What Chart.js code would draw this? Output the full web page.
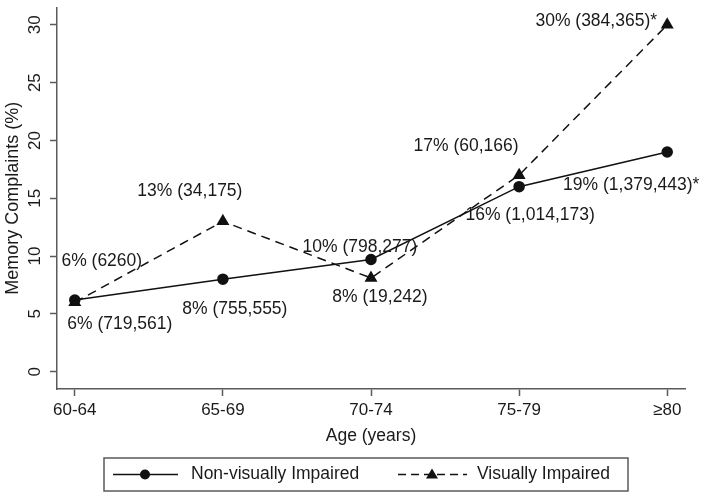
<!DOCTYPE html>
<html>
<head>
<meta charset="utf-8">
<script src="https://cdn.jsdelivr.net/npm/chart.js@4.4.1/dist/chart.umd.min.js"></script>
<style>
  html, body { margin: 0; padding: 0; background: #fff; }
  #wrap { width: 702px; height: 495px; }
</style>
</head>
<body>
<div id="wrap"><canvas id="chart"></canvas></div>
<script>
const ageGroups = ['60-64', '65-69', '70-74', '75-79', '≥80']
const yTicks = [0, 5, 10, 15, 20, 25, 30]

const nonVisual = [6.2, 8.0, 9.7, 16.0, 19.0]
const visual = [6.0, 13.0, 8.1, 17.0, 30.0]

const nonVisualLabels = ['6% (719,561)', '8% (755,555)', '10% (798,277)', '16% (1,014,173)', '19% (1,379,443)*']
const visualLabels = ['6% (6260)', '13% (34,175)', '8% (19,242)', '17% (60,166)', '30% (384,365)*']

const FONT = 'Arial, "Liberation Sans", Helvetica, sans-serif'
const AXIS = '#5a5a5a'

// label offsets from the point, pixels
const nonOffsets = [[45, 24], [12, 30], [-11, -12], [11, 28], [-36, 33]]
const visOffsets = [[27, -41], [-33, -30], [9, 19], [-53, -29], [-71, -4]]

const annotatePlugin = {
  id: 'annotate',
  afterDatasetsDraw (chart) {
    const ctx = chart.ctx
    ctx.save()
    ctx.font = '17.5px ' + FONT
    ctx.fillStyle = '#1a1a1a'
    ctx.textAlign = 'center'
    ctx.textBaseline = 'middle'
    const m0 = chart.getDatasetMeta(0).data
    const m1 = chart.getDatasetMeta(1).data
    nonVisualLabels.forEach((t, i) => {
      ctx.fillText(t, m0[i].x + nonOffsets[i][0], m0[i].y + nonOffsets[i][1])
    })
    visualLabels.forEach((t, i) => {
      ctx.fillText(t, m1[i].x + visOffsets[i][0], m1[i].y + visOffsets[i][1])
    })
    ctx.restore()
  },
  afterDraw (chart) {
    // legend box
    const ctx = chart.ctx
    const area = chart.chartArea
    const cx = (area.left + area.right) / 2 - 5
    const left = cx - 262
    const right = cx + 262
    const top = 458
    const bottom = 491
    const my = (top + bottom) / 2
    ctx.save()
    ctx.strokeStyle = AXIS
    ctx.lineWidth = 1.5
    ctx.strokeRect(left, top, right - left, bottom - top)

    ctx.strokeStyle = '#111'
    ctx.fillStyle = '#111'
    ctx.lineWidth = 1.5
    ctx.beginPath()
    ctx.moveTo(left + 9, my)
    ctx.lineTo(left + 74, my)
    ctx.stroke()
    ctx.beginPath()
    ctx.arc(left + 41, my, 5, 0, Math.PI * 2)
    ctx.fill()

    ctx.setLineDash([8, 5])
    ctx.beginPath()
    ctx.moveTo(left + 294, my)
    ctx.lineTo(left + 363, my)
    ctx.stroke()
    ctx.setLineDash([])
    const tx = left + 328
    ctx.beginPath()
    ctx.moveTo(tx, my - 6)
    ctx.lineTo(tx + 6, my + 4)
    ctx.lineTo(tx - 6, my + 4)
    ctx.closePath()
    ctx.fill()

    ctx.font = '17.5px ' + FONT
    ctx.fillStyle = '#1a1a1a'
    ctx.textAlign = 'left'
    ctx.textBaseline = 'middle'
    ctx.fillText('Non-visually Impaired', left + 87, my)
    ctx.fillText('Visually Impaired', left + 373, my)
    ctx.restore()
  }
}

new Chart(document.getElementById('chart'), {
  type: 'line',
  data: {
    datasets: [
      {
        label: 'Non-visually Impaired',
        data: nonVisual.map((v, i) => ({ x: i, y: v })),
        borderColor: '#111',
        backgroundColor: '#111',
        borderWidth: 1.5,
        pointStyle: 'circle',
        pointRadius: 5,
        tension: 0
      },
      {
        label: 'Visually Impaired',
        data: visual.map((v, i) => ({ x: i, y: v })),
        borderColor: '#111',
        backgroundColor: '#111',
        borderWidth: 1.5,
        borderDash: [9, 6],
        pointStyle: 'triangle',
        pointRadius: 6,
        tension: 0
      }
    ]
  },
  options: {
    responsive: true,
    maintainAspectRatio: false,
    animation: false,
    clip: false,
    layout: { padding: { left: 2, right: 17, top: 3, bottom: 48 } },
    plugins: {
      legend: { display: false },
      tooltip: { enabled: false }
    },
    scales: {
      x: {
        type: 'linear',
        min: -0.12,
        max: 4.12,
        afterBuildTicks: (scale) => { scale.ticks = ageGroups.map((_, i) => ({ value: i })) },
        afterFit: (scale) => {
          scale.height = 58
          scale.paddingLeft = 0
          scale.paddingRight = 0
        },
        ticks: {
          callback: (v) => ageGroups[v],
          font: { family: FONT, size: 17 },
          color: '#1a1a1a',
          padding: 4,
          maxRotation: 0
        },
        grid: { drawOnChartArea: false, drawTicks: true, tickLength: 7, color: AXIS, tickWidth: 1.5 },
        border: { color: AXIS, width: 1.5 },
        title: {
          display: true,
          text: 'Age (years)',
          font: { family: FONT, size: 17.5 },
          color: '#1a1a1a',
          padding: { top: 4, bottom: 0 }
        }
      },
      y: {
        min: -1.5,
        max: 31.5,
        afterBuildTicks: (scale) => { scale.ticks = yTicks.map(v => ({ value: v })) },
        afterFit: (scale) => {
          scale.width = 55
          scale.paddingTop = 0
          scale.paddingBottom = 0
        },
        ticks: {
          font: { family: FONT, size: 17 },
          color: '#1a1a1a',
          minRotation: 90,
          maxRotation: 90,
          crossAlign: 'center',
          padding: 5.5
        },
        grid: { drawOnChartArea: false, drawTicks: true, tickLength: 7, color: AXIS, tickWidth: 1.5 },
        border: { color: AXIS, width: 1.5 },
        title: {
          display: true,
          text: 'Memory Complaints (%)',
          font: { family: FONT, size: 18 },
          color: '#1a1a1a',
          padding: { top: 0, bottom: 0 }
        }
      }
    }
  },
  plugins: [annotatePlugin]
})
</script>
</body>
</html>
